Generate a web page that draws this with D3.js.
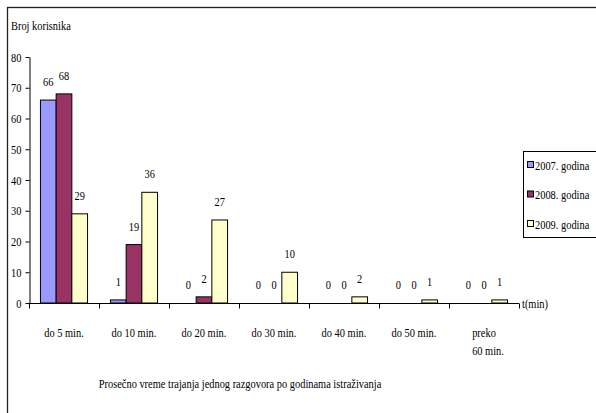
<!DOCTYPE html>
<html><head><meta charset="utf-8">
<script src="https://cdn.jsdelivr.net/npm/d3@7"></script>
<style>body{margin:0;background:#fff}svg{display:block}</style>
</head><body>
<script>
const categories = ["do 5 min.","do 10 min.","do 20 min.","do 30 min.","do 40 min.","do 50 min.","preko\n60 min."];
const seriesNames = ["2007. godina","2008. godina","2009. godina"];
const values2007 = [66,1,0,0,0,0,0];
const values2008 = [68,19,2,0,0,0,0];
const values2009 = [29,36,27,10,2,1,1];
const yTicks = [0,10,20,30,40,50,60,70,80];
const colors = ["#9999FF","#993366","#FFFFCC"];
const series = [values2007, values2008, values2009];

const W = 596, H = 413, SX = 0.8, FS = 13;
const svg = d3.select("body").append("svg").attr("width", W).attr("height", H);

function txt(g, x, y, s, anchor, size) {
  return g.append("text").attr("transform", `translate(${x},${y}) scale(${SX},1)`)
    .attr("text-anchor", anchor || "start")
    .style("font-family", '"Liberation Serif"')
    .style("font-size", (size || FS) + "px").attr("fill", "#000").text(s);
}

// frame
svg.append("rect").attr("x", 7.5).attr("y", 7.5).attr("width", 620).attr("height", 420)
  .attr("fill", "none").attr("stroke", "#222").attr("stroke-width", 1.3);

const x = d3.scaleBand().domain(categories).range([29, 519]).padding(0);
const xi = d3.scaleBand().domain(d3.range(3)).range([0, x.bandwidth()]).paddingInner(0).paddingOuter(0.73);
const y = d3.scaleLinear().domain([0, 80]).range([303, 57]);

// y axis
const yAxis = d3.axisLeft(y).tickValues(yTicks).tickSize(4).tickSizeOuter(0).tickPadding(4);
const ya = svg.append("g").attr("transform", "translate(29.5,0)").call(yAxis);
ya.selectAll("text").remove();
ya.selectAll("path,line").attr("stroke", "#000");
yTicks.forEach(t => txt(svg, 21.5, y(t) + 4.5, t, "end"));

// bars
series.forEach((vals, si) => {
  svg.append("g").selectAll("rect").data(vals).join("rect")
    .attr("x", (d, i) => x(categories[i]) + xi(si))
    .attr("y", d => y(d))
    .attr("width", xi.bandwidth())
    .attr("height", d => y(0) - y(d))
    .attr("fill", colors[si]).attr("stroke", "#000").attr("stroke-width", 1);
  vals.forEach((d, i) => txt(svg, x(categories[i]) + xi(si) + xi.bandwidth() / 2, y(d) - 14, d, "middle"));
});

// x axis
const xa = svg.append("g");
xa.append("line").attr("x1", 29).attr("x2", 519).attr("y1", 303.5).attr("y2", 303.5).attr("stroke", "#000");
const bounds = categories.map(c => x(c)).concat([x.range()[1]]);
xa.selectAll("line.tk").data(bounds).join("line").attr("class", "tk")
  .attr("x1", d => d + 0.5).attr("x2", d => d + 0.5).attr("y1", 303.5).attr("y2", 308.5).attr("stroke", "#000");
categories.forEach(c => {
  const lines = c.split("\n");
  lines.forEach((l, li) => txt(svg, x(c) + x.bandwidth() / 2 + (lines.length > 1 && li === 1 ? 4 : 0), 337 + li * 18, l, "middle"));
});
txt(svg, 522, 308, "t(min)");

// titles
txt(svg, 11, 30, "Broj korisnika");
txt(svg, 240, 388, "Prosečno vreme trajanja jednog razgovora po godinama istraživanja", "middle");

// legend
const lg = svg.append("g");
lg.append("rect").attr("x", 523.5).attr("y", 151.5).attr("width", 100).attr("height", 86)
  .attr("fill", "#fff").attr("stroke", "#000").attr("stroke-width", 1);
seriesNames.forEach((n, i) => {
  const cy = 165 + i * 29.5;
  lg.append("rect").attr("x", 527.5).attr("y", cy - 3.5).attr("width", 6).attr("height", 6)
    .attr("fill", colors[i]).attr("stroke", "#000").attr("stroke-width", 1);
  txt(lg, 535, cy + 4.5, n);
});
</script>
</body></html>
